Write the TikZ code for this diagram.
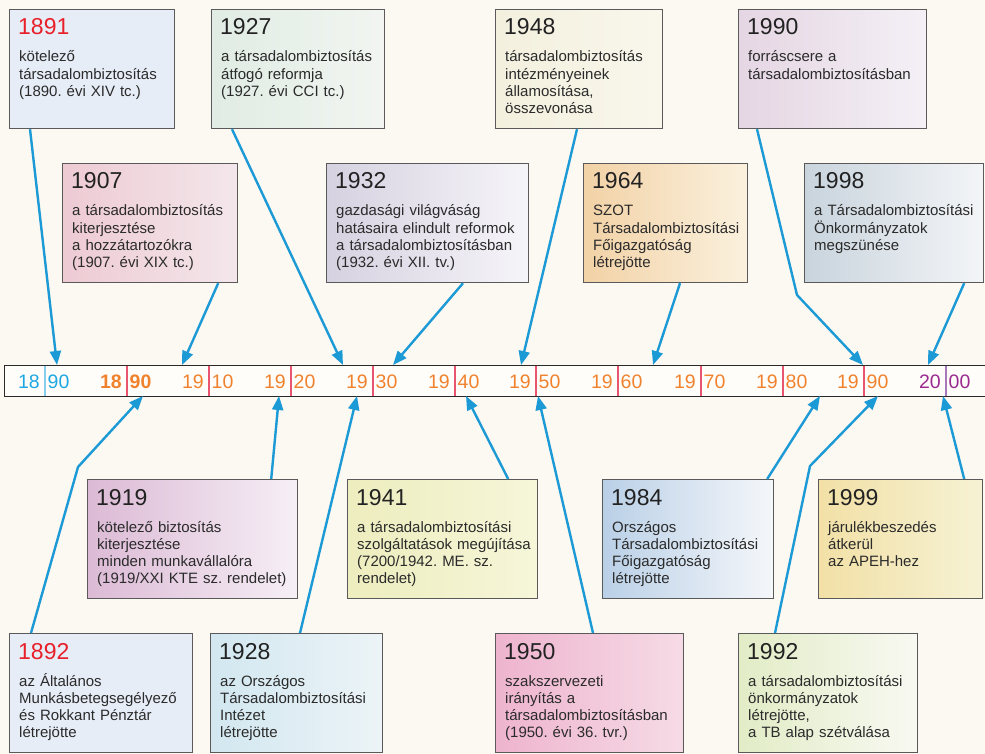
\documentclass[tikz,border=0pt]{standalone}
\usepackage{fontspec}
\setmainfont{Liberation Sans}
\usetikzlibrary{arrows.meta,calc}
\frenchspacing

\definecolor{bg}{HTML}{FCF8F2}
\definecolor{boxline}{HTML}{5A5A5A}
\definecolor{linkblue}{HTML}{1B9AD6}
\definecolor{yeargray}{HTML}{222222}
\definecolor{bodygray}{HTML}{2B2B2B}
\definecolor{yearred}{HTML}{E8202A}
\definecolor{barline}{HTML}{2A2A2A}
\definecolor{barfill}{HTML}{FFFDFA}
\definecolor{lblorange}{HTML}{F0822E}
\definecolor{lblblue}{HTML}{1DA7E3}
\definecolor{lblpurple}{HTML}{9A2A8F}
\definecolor{tickred}{HTML}{E9556E}
\definecolor{tickblue}{HTML}{86CDEE}
\definecolor{tickpurple}{HTML}{A779B8}

% card fills (left / right end of the horizontal shading)
\definecolor{cardblue}{HTML}{E7EDF7}
\definecolor{g27L}{HTML}{E0ECE4}\definecolor{g27R}{HTML}{F2F5F1}
\definecolor{g48L}{HTML}{F3F0DE}\definecolor{g48R}{HTML}{F9F7EC}
\definecolor{g90L}{HTML}{E5D6E3}\definecolor{g90R}{HTML}{F4F0F6}
\definecolor{g07L}{HTML}{EECAD3}\definecolor{g07R}{HTML}{F3E7EB}
\definecolor{g32L}{HTML}{D6D1E0}\definecolor{g32R}{HTML}{F6F5F9}
\definecolor{g64L}{HTML}{F2D2A6}\definecolor{g64R}{HTML}{FBF1DE}
\definecolor{g98L}{HTML}{C9D4DD}\definecolor{g98R}{HTML}{F3F5F7}
\definecolor{g19L}{HTML}{DCBAD5}\definecolor{g19R}{HTML}{F6EFF6}
\definecolor{g41L}{HTML}{EDEDBE}\definecolor{g41R}{HTML}{F6F6DA}
\definecolor{g84L}{HTML}{BAD0E7}\definecolor{g84R}{HTML}{F5F7FA}
\definecolor{g99L}{HTML}{F2E0A6}\definecolor{g99R}{HTML}{F6F2D4}
\definecolor{g28L}{HTML}{D2E7F0}\definecolor{g28R}{HTML}{ECF4F7}
\definecolor{g50L}{HTML}{EEB4CE}\definecolor{g50R}{HTML}{F6DBE6}
\definecolor{g92L}{HTML}{E2ECC6}\definecolor{g92R}{HTML}{F8F9F2}

% one event card: name, top-left corner, width, fill keys, year style, year, text
\newcommand\eventcard[7]{%
  \node[cardbox, minimum width=#3pt, #4] (b#1) at (#2) {};
  \node[#5] (y#1) at ($(b#1.north west)+(9,26)$) {#6};
  \node[cardtext] (t#1) at ($(b#1.north west)+(10,53)$) {#7};
}

\begin{document}
\begin{tikzpicture}[x=1pt,y=-1pt,
  cardbox/.style={draw=boxline, line width=1.2pt, inner sep=0pt,
    anchor=north west, minimum height=119pt},
  yeartxt/.style={anchor=base west, inner sep=0pt,
    font=\fontsize{23}{26}\selectfont, text=yeargray},
  yearhot/.style={yeartxt, text=yearred},
  cardtext/.style={anchor=base west, inner sep=0pt, text width=260pt,
    align=left, font=\fontsize{15}{17.3}\selectfont, text=bodygray},
  link/.style={draw=linkblue, line width=2.4pt,
    -{Triangle[length=14pt,width=11pt]}},
  ticklbl/.style={inner sep=0pt, font=\fontsize{19.5}{22}\selectfont},
]
\useasboundingbox (0,0) rectangle (985,754);
\fill[bg] (0,0) rectangle (985,754);

% ---------- time axis ----------
\node[draw=barline, fill=barfill, line width=1pt, inner sep=0pt,
      anchor=north west, minimum width=1010pt, minimum height=31pt] (bar) at (4,365) {};

\foreach \n/\x/\a/\b/\tc/\lc/\fw in {
   0/45/18/90/tickblue/lblblue/\mdseries,
   1/127/18/90/tickred/lblorange/\bfseries,
   2/209/19/10/tickred/lblorange/\mdseries,
   3/291/19/20/tickred/lblorange/\mdseries,
   4/373/19/30/tickred/lblorange/\mdseries,
   5/455/19/40/tickred/lblorange/\mdseries,
   6/536/19/50/tickred/lblorange/\mdseries,
   7/618/19/60/tickred/lblorange/\mdseries,
   8/701/19/70/tickred/lblorange/\mdseries,
   9/783/19/80/tickred/lblorange/\mdseries,
   10/864/19/90/tickred/lblorange/\mdseries,
   11/946/20/00/tickpurple/lblpurple/\mdseries}{
  \draw[\tc, line width=2.6pt] (\x,365.5) -- (\x,395.5);
  \node[ticklbl, text=\lc, anchor=base east] (L\n) at (\x-5,388) {\fw\a};
  \node[ticklbl, text=\lc, anchor=base west] (R\n) at (\x+2.5,388) {\fw\b};
}

% ---------- cards above the axis ----------
\eventcard{1891}{9,9}{165}{fill=cardblue}{yearhot}{1891}
  {kötelező\\társadalombiztosítás\\(1890. évi XIV tc.)}
\eventcard{1927}{211,9}{173}{left color=g27L, right color=g27R}{yeartxt}{1927}
  {a társadalombiztosítás\\átfogó reformja\\(1927. évi CCI tc.)}
\eventcard{1948}{495,9}{167}{left color=g48L, right color=g48R}{yeartxt}{1948}
  {társadalombiztosítás\\intézményeinek\\államosítása,\\összevonása}
\eventcard{1990}{738,9}{188}{left color=g90L, right color=g90R}{yeartxt}{1990}
  {forráscsere a\\társadalombiztosításban}

\eventcard{1907}{62,163}{175}{left color=g07L, right color=g07R}{yeartxt}{1907}
  {a társadalombiztosítás\\kiterjesztése\\a hozzátartozókra\\(1907. évi XIX tc.)}
\eventcard{1932}{326,163}{202}{left color=g32L, right color=g32R}{yeartxt}{1932}
  {gazdasági világváság\\hatásaira elindult reformok\\a társadalombiztosításban\\(1932. évi XII. tv.)}
\eventcard{1964}{583,163}{164}{left color=g64L, right color=g64R}{yeartxt}{1964}
  {SZOT\\Társadalombiztosítási\\Főigazgatóság\\létrejötte}
\eventcard{1998}{804,163}{179}{left color=g98L, right color=g98R}{yeartxt}{1998}
  {a Társadalombiztosítási\\Önkormányzatok\\megszünése}

% ---------- cards below the axis ----------
\eventcard{1919}{87,479}{210}{left color=g19L, right color=g19R}{yeartxt}{1919}
  {kötelező biztosítás\\kiterjesztése\\minden munkavállalóra\\(1919/XXI KTE sz. rendelet)}
\eventcard{1941}{347,479}{190}{left color=g41L, right color=g41R}{yeartxt}{1941}
  {a társadalombiztosítási\\szolgáltatások megújítása\\(7200/1942. ME. sz.\\rendelet)}
\eventcard{1984}{602,479}{171}{left color=g84L, right color=g84R}{yeartxt}{1984}
  {Országos\\Társadalombiztosítási\\Főigazgatóság\\létrejötte}
\eventcard{1999}{818,479}{164}{left color=g99L, right color=g99R}{yeartxt}{1999}
  {járulékbeszedés\\átkerül\\az APEH-hez}

\eventcard{1892}{9,633}{183}{fill=cardblue}{yearhot}{1892}
  {az Általános\\Munkásbetegsegélyező\\és Rokkant Pénztár\\létrejötte}
\eventcard{1928}{210,633}{172}{left color=g28L, right color=g28R}{yeartxt}{1928}
  {az Országos\\Társadalombiztosítási\\Intézet\\létrejötte}
\eventcard{1950}{495,633}{188}{left color=g50L, right color=g50R}{yeartxt}{1950}
  {szakszervezeti\\irányítás a\\társadalombiztosításban\\(1950. évi 36. tvr.)}
\eventcard{1992}{738,633}{179}{left color=g92L, right color=g92R}{yeartxt}{1992}
  {a társadalombiztosítási\\önkormányzatok\\létrejötte,\\a TB alap szétválása}

% ---------- arrow tips on the axis ----------
\coordinate (p1891) at (57,365);
\coordinate (p1907) at (182,365);
\coordinate (p1927) at (343,365);
\coordinate (p1932) at (393,365);
\coordinate (p1948) at (521,365);
\coordinate (p1964) at (653,365);
\coordinate (p1990) at (863,365);
\coordinate (p1998) at (928,365);
\coordinate (p1892) at (143,396);
\coordinate (p1919) at (279,396);
\coordinate (p1928) at (357,396);
\coordinate (p1941) at (466,396);
\coordinate (p1950) at (538,396);
\coordinate (p1984) at (820,396);
\coordinate (p1992) at (878,396);
\coordinate (p1999) at (943,396);

% bends of the broken connectors
\coordinate (k1990) at (797,295);
\coordinate (k1892) at (78,467);
\coordinate (k1992) at (810,466);

% ---------- connectors ----------
\draw[link] ($(b1891.south west)+(21,0)$) -- (p1891);
\draw[link] ($(b1927.south west)+(21,0)$) -- (p1927);
\draw[link] ($(b1948.south west)+(82,0)$) -- (p1948);
\draw[link] ($(b1990.south west)+(19,0)$) -- (k1990) -- (p1990);
\draw[link] ($(b1907.south east)+(-20,0)$) -- (p1907);
\draw[link] ($(b1932.south west)+(137,0)$) -- (p1932);
\draw[link] ($(b1964.south west)+(97,0)$) -- (p1964);
\draw[link] ($(b1998.south east)+(-20,0)$) -- (p1998);

\draw[link] ($(b1892.north west)+(22,0)$) -- (k1892) -- (p1892);
\draw[link] ($(b1919.north east)+(-27,0)$) -- (p1919);
\draw[link] ($(b1928.north west)+(90,0)$) -- (p1928);
\draw[link] ($(b1941.north east)+(-30,0)$) -- (p1941);
\draw[link] ($(b1950.north west)+(98,0)$) -- (p1950);
\draw[link] ($(b1984.north east)+(-7,0)$) -- (p1984);
\draw[link] ($(b1992.north west)+(37,0)$) -- (k1992) -- (p1992);
\draw[link] ($(b1999.north east)+(-19,0)$) -- (p1999);
\end{tikzpicture}
\end{document}
